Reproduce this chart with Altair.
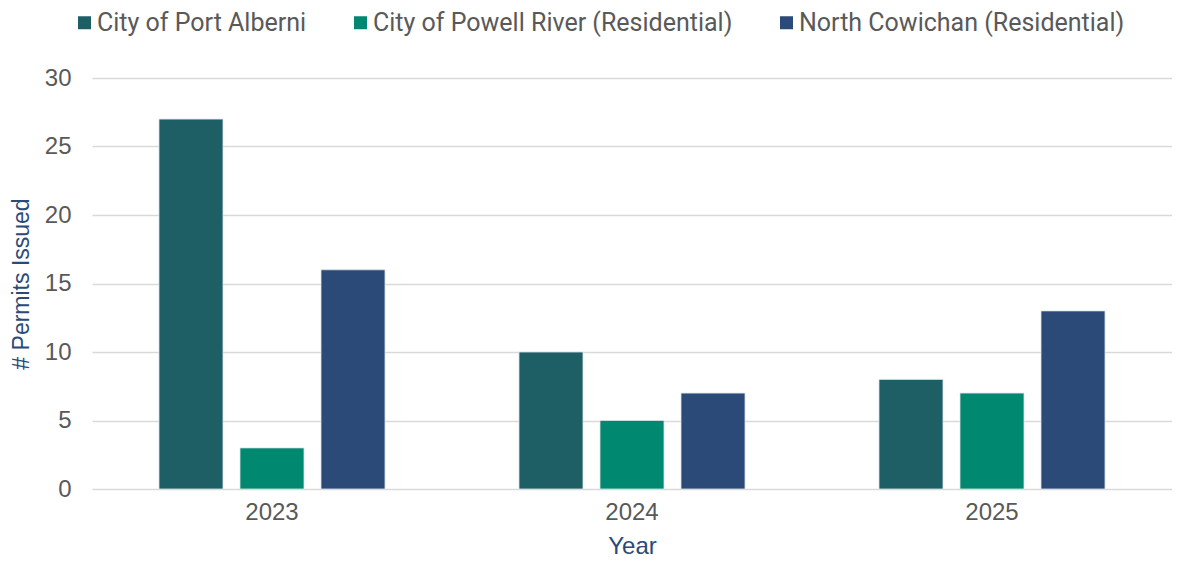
import altair as alt
import pandas as pd

years = ["2023", "2024", "2025"]
series = ["City of Port Alberni", "City of Powell River (Residential)", "North Cowichan (Residential)"]
port_alberni = [27, 10, 8]
powell_river = [3, 5, 7]
north_cowichan = [16, 7, 13]
colors = ["#1e5f66", "#008870", "#2b4a78"]

rows = []
for i, y in enumerate(years):
    for s, vals in zip(series, [port_alberni, powell_river, north_cowichan]):
        rows.append({"Year": y, "Series": s, "Permits": vals[i]})
df = pd.DataFrame(rows)

chart = alt.Chart(df).mark_bar(stroke="#dbe4ea", strokeWidth=0.8).encode(
    x=alt.X("Year:N", sort=years,
            scale=alt.Scale(paddingInner=0, paddingOuter=0),
            axis=alt.Axis(title="Year", labelAngle=0, labelFontSize=24, labelColor="#595959",
                          labelFont="Liberation Sans", titleFont="Liberation Sans", titleFontSize=24,
                          titleFontWeight="normal", titleColor="#2b4a78", ticks=False, domain=False,
                          grid=False, labelPadding=11, titlePadding=10)),
    xOffset=alt.XOffset("Series:N", sort=series,
                        scale=alt.Scale(paddingInner=0.21, paddingOuter=0.827)),
    y=alt.Y("Permits:Q", scale=alt.Scale(domain=[0, 30]),
            axis=alt.Axis(title="# Permits Issued", values=[0, 5, 10, 15, 20, 25, 30],
                          labelFontSize=24, labelColor="#595959", labelFont="Liberation Sans",
                          titleFont="Liberation Sans", titleFontSize=23, titleFontWeight="normal",
                          titleColor="#2b4a78", ticks=False, domain=False, labelPadding=21,
                          titlePadding=11, gridColor="#d9d9d9", gridWidth=1.5)),
    color=alt.Color("Series:N", sort=series,
                    scale=alt.Scale(domain=series, range=colors),
                    legend=alt.Legend(title=None, orient="none", legendX=-20, legendY=-68,
                                      direction="horizontal", symbolType="square", symbolSize=169,
                                      labelFontSize=25, labelFont="Roboto", labelColor="#595959",
                                      symbolStrokeWidth=0, labelOffset=0, columnPadding=41,
                                      labelLimit=500)),
).properties(
    width=1080, height=411,
    padding={"left": 2, "top": 2, "right": 0, "bottom": 0},
).configure(background="white").configure_view(stroke=None)

chart.save("out.html", embed_options={"renderer": "svg", "actions": False})
